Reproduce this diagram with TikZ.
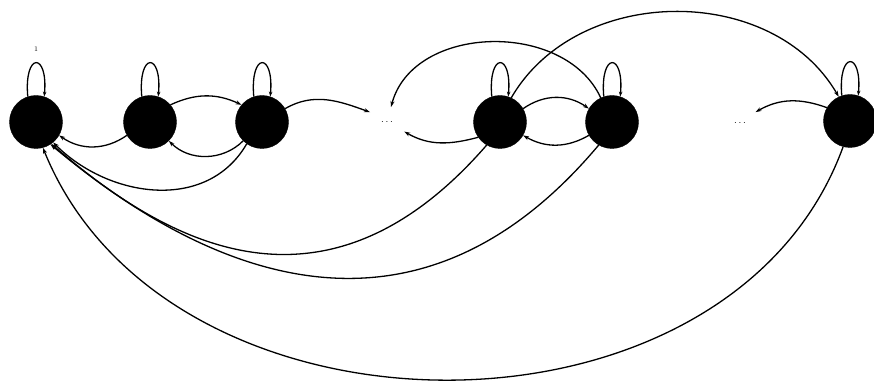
\documentclass[tikz,border=0pt]{standalone}
\usetikzlibrary{arrows.meta,shapes.geometric}
\begin{document}
\begin{tikzpicture}[x=1pt,y=1pt,
  state/.style={circle,fill=black,draw=black,minimum size=53pt,inner sep=0pt},
  gap/.style={ellipse,minimum width=44pt,minimum height=30pt,inner sep=0pt,font=\normalsize},
  edge/.style={line width=1.3pt,-{Stealth[length=6pt,width=4pt]}},
  selfloop/.style={line width=1.3pt,-{Stealth[length=5pt,width=3.5pt]}}]
\useasboundingbox (0,0) rectangle (874,382);
\node[state] (n1) at (36,260) {};
\node[state] (n2) at (150,260) {};
\node[state] (n3) at (262,260) {};
\node[gap] (d1) at (387,260) {$\cdots$};
\node[state] (n4) at (500,260) {};
\node[state] (n5) at (612,260) {};
\node[gap] (d2) at (740,259) {$\cdots$};
\node[state] (n6) at (850,261) {};
\node[font=\scriptsize,inner sep=0pt] (lab) at (36,333) {1};
% self loops
\foreach \n in {n1,n2,n3,n4,n5,n6}{
  \draw[selfloop] (\n.108) .. controls +(95:45) and +(85:45) .. (\n.72);
}
% neighbours
\draw[edge] (n2.210) to[out=215,in=-35] (n1.-30);
\draw[edge] (n2.40) to[out=25,in=155] (n3.140);
\draw[edge] (n3.225) to[out=225,in=-45] (n2.-45);
\draw[edge] (n3.30) to[out=30,in=160] (d1.150);
\draw[edge] (n4.215) to[out=195,in=-30] (d1.-29);
\draw[edge] (n4.30) to[out=35,in=145] (n5.150);
\draw[edge] (n5.210) to[out=210,in=-30] (n4.-30);
\draw[edge] (n6.150) to[out=160,in=30] (d2.35);
% long upper arcs
\draw[edge] (n5.115) .. controls +(-36,78) and +(22,83) .. (d1.75);
\draw[edge] (n4.65) .. controls +(66,114) and +(-66,114) .. (n6.115);
% returns to state 1
\draw[edge] (n3.235) .. controls +(-39.5,-68.4) and +(55.9,-55.9) .. (n1.-50);
\draw[edge] (n4.240) .. controls +(-165,-190) and +(110,-95) .. (n1.-55);
\draw[edge] (n5.240) .. controls +(-175.9,-209.5) and +(170.6,-143.2) .. (n1.-57);
\draw[edge] (n6.255) .. controls +(-113.5,-312.1) and +(124.5,-307.8) .. (n1.-75);
\end{tikzpicture}
\end{document}
